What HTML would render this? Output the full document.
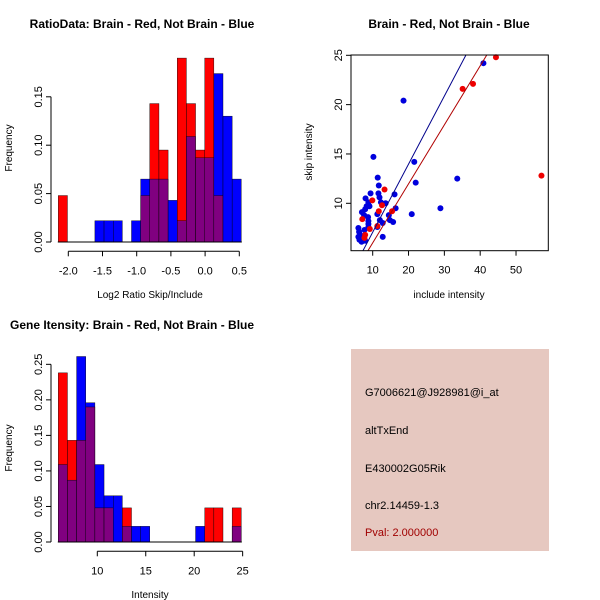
<!DOCTYPE html>
<html><head><meta charset="utf-8"><style>
body{margin:0;background:#fff}
svg{display:block;font-family:"Liberation Sans",sans-serif}
</style></head><body>
<svg id="s" width="600" height="600" viewBox="0 0 600 600">
<rect width="600" height="600" fill="#fff"/>
<text x="142" y="28" font-size="12" font-weight="bold" text-anchor="middle">RatioData: Brain - Red, Not Brain - Blue</text>
<text x="449" y="28" font-size="12" font-weight="bold" text-anchor="middle">Brain - Red, Not Brain - Blue</text>
<text x="10" y="329" font-size="12" font-weight="bold">Gene Itensity: Brain - Red, Not Brain - Blue</text>
<text x="150" y="298" font-size="10" text-anchor="middle">Log2 Ratio Skip/Include</text>
<text x="12" y="148" font-size="10" text-anchor="middle" transform="rotate(-90 12 148)">Frequency</text>
<text x="449" y="298" font-size="10" text-anchor="middle">include intensity</text>
<text x="312" y="152" font-size="10" text-anchor="middle" transform="rotate(-90 312 152)">skip intensity</text>
<text x="150" y="598" font-size="10" text-anchor="middle">Intensity</text>
<text x="12" y="448" font-size="10" text-anchor="middle" transform="rotate(-90 12 448)">Frequency</text>
<g>
<rect x="351" y="349" width="198" height="202" fill="#e6c8c0"/>
<text x="365" y="396" font-size="11">G7006621@J928981@i_at</text>
<text x="365" y="434" font-size="11">altTxEnd</text>
<text x="365" y="472" font-size="11">E430002G05Rik</text>
<text x="365" y="509" font-size="11">chr2.14459-1.3</text>
<text x="365" y="536" font-size="11" fill="#a00000">Pval: 2.000000</text>
</g>
</svg>
<script>
const ratioRed = [0.048,0,0,0,0,0,0,0,0,0.048,0.143,0.095,0,0.19,0.143,0.095,0.19,0.048,0,0];
const ratioBlue = [0,0,0,0,0.022,0.022,0.022,0,0.022,0.065,0.065,0.065,0.043,0.022,0.109,0.087,0.087,0.174,0.130,0.065];
const ratioXTicks = [-2.0,-1.5,-1.0,-0.5,0.0,0.5];
const ratioYTicks = [0.00,0.05,0.10,0.15];
const intRed = [0.238,0.143,0.143,0.19,0.048,0.048,0,0.048,0,0,0,0,0,0,0,0,0.048,0.048,0,0.048];
const intBlue = [0.109,0.087,0.261,0.196,0.109,0.065,0.065,0.022,0.022,0.022,0,0,0,0,0,0.022,0,0,0,0.022];
const intXTicks = [10,15,20,25];
const intYTicks = [0.00,0.05,0.10,0.15,0.20,0.25];
const blueX = [18.6,10.2,40.9,21.6,22.0,33.6,28.9,20.9,11.4,11.7,11.6,11.9,9.4,8.0,12.3,13.6,16.1,16.4,11.3,14.5,14.8,15.7,12.0,12.8,11.3,12.8,8.8,9.1,8.3,7.9,7.0,7.6,8.7,8.8,8.8,8.8,7.7,6.0,6.2,6.5,6.0,6.3,6.9,7.9,7.2];
const blueY = [20.4,14.7,24.2,14.2,12.1,12.5,9.5,8.9,12.6,11.8,11.0,10.6,11.0,10.5,10.1,10.0,10.9,9.5,8.9,8.8,8.3,8.1,8.3,8.0,7.6,6.6,10.1,9.7,9.7,9.4,9.1,8.8,8.6,8.2,7.9,7.6,7.3,7.5,7.1,6.8,6.6,6.3,6.1,6.2,6.6];
const redX = [44.4,38.0,35.1,57.1,13.3,9.9,12.6,15.4,11.7,11.3,7.1,9.2,7.9,7.7];
const redY = [24.8,22.1,21.6,12.8,11.4,10.3,9.8,9.2,9.2,7.7,8.4,7.4,6.8,6.5];
const fitBlue = [0.17,0.69];
const fitRed = [0.01,0.598];
const scXTicks = [10,20,30,40,50];
const scYTicks = [10,15,20,25];

const svg = document.getElementById('s');
const NS = 'http://www.w3.org/2000/svg';
function mk(tag, attrs, parent){const e=document.createElementNS(NS,tag);for(const k in attrs)e.setAttribute(k,attrs[k]);(parent||svg).appendChild(e);return e;}

function hist(red, blue, xTicks, yTicks, xs, ys, x0, binW, bottom, axisY, axisX, prefix, fmtY, fmtX){
  const g = mk('g',{});
  
  
  red.forEach((r,i)=>{
    const b = blue[i];
    const xl = x0 + i*binW;
    const hi = Math.max(r,b), lo = Math.min(r,b);
    if (hi>0){
      const el = mk('rect',{x:xl,y:ys(hi),width:binW,height:bottom-ys(hi),fill:r>=b?'#ff0000':'#0000ff',stroke:'#000','stroke-width':0.4},g);
      
      
    }
    if (lo>0){
      const el = mk('rect',{x:xl,y:ys(lo),width:binW,height:bottom-ys(lo),fill:'#800080',stroke:'#000','stroke-width':0.4},g);
      
      
    }
  });
  mk('line',{x1:x0-0.5,x2:x0+binW*red.length+0.5,y1:bottom,y2:bottom,stroke:'#000'},g);
  mk('line',{x1:xs(xTicks[0]),x2:xs(xTicks[xTicks.length-1]),y1:axisY,y2:axisY,stroke:'#000'},g);
  xTicks.forEach(t=>{
    mk('line',{x1:xs(t),x2:xs(t),y1:axisY,y2:axisY+5,stroke:'#000'},g);
    const tx = mk('text',{x:xs(t),y:axisY+23,'font-size':11,'text-anchor':'middle'},g);
    tx.textContent = fmtX(t);
  });
  mk('line',{x1:axisX,x2:axisX,y1:ys(yTicks[0]),y2:ys(yTicks[yTicks.length-1]),stroke:'#000'},g);
  yTicks.forEach(t=>{
    mk('line',{x1:axisX,x2:axisX-5,y1:ys(t),y2:ys(t),stroke:'#000'},g);
    const tx = mk('text',{x:axisX-9,y:ys(t),'font-size':11,'text-anchor':'middle',transform:`rotate(-90 ${axisX-9} ${ys(t)})`},g);
    tx.textContent = fmtY(t);
  });
}
(function(){
  const xs = v => 68.3 + (v+2.0)*68.4;
  const ys = v => 242 - v*968;
  hist(ratioRed, ratioBlue, ratioXTicks, ratioYTicks, xs, ys, 58.3, 9.15, 242, 251.3, 51, 'ratio', t=>t.toFixed(2), t=>t.toFixed(1));
})();
(function(){
  const xs = v => 97.3 + (v-10)*9.69;
  const ys = v => 542 - v*710.7;
  hist(intRed, intBlue, intXTicks, intYTicks, xs, ys, 58.3, 9.15, 542, 551.3, 51, 'intensity', t=>t.toFixed(2), t=>String(t));
})();
(function(){
  const L=351,R=548.3,T=55,B=250.7;
  const xs = v => 372.7 + (v-10)*3.583;
  const ys = v => 203.3 - (v-10)*9.867;
  const g = mk('g',{});
  
  
  mk('defs',{},g).innerHTML = `<clipPath id="cp"><rect x="${L}" y="${T}" width="${R-L}" height="${B-T}"/></clipPath>`;
  blueX.forEach((x,i)=>{
    const c = mk('circle',{cx:xs(x),cy:ys(blueY[i]),r:3,fill:'#0000dd'},g);
    
    
  });
  redX.forEach((x,i)=>{
    const c = mk('circle',{cx:xs(x),cy:ys(redY[i]),r:3,fill:'#ee0000'},g);
    
    
  });
  [[fitBlue,'#00008b','blue-fit-line'],[fitRed,'#b00000','red-fit-line']].forEach(([f,col,nm])=>{
    const xa=0, xb=70;
    const ln = mk('line',{x1:xs(xa),y1:ys(f[0]+f[1]*xa),x2:xs(xb),y2:ys(f[0]+f[1]*xb),stroke:col,'stroke-width':1,'clip-path':'url(#cp)'},g);
    
    
  });
  mk('rect',{x:L,y:T,width:R-L,height:B-T,fill:'none',stroke:'#000'},g);
  scXTicks.forEach(t=>{
    mk('line',{x1:xs(t),x2:xs(t),y1:B,y2:B+5,stroke:'#000'},g);
    const tx = mk('text',{x:xs(t),y:B+23,'font-size':11,'text-anchor':'middle'},g);
    tx.textContent = String(t);
  });
  scYTicks.forEach(t=>{
    mk('line',{x1:L,x2:L-5,y1:ys(t),y2:ys(t),stroke:'#000'},g);
    const tx = mk('text',{x:L-9,y:ys(t),'font-size':11,'text-anchor':'middle',transform:`rotate(-90 ${L-9} ${ys(t)})`},g);
    tx.textContent = String(t);
  });
})();
</script>
</body></html>
